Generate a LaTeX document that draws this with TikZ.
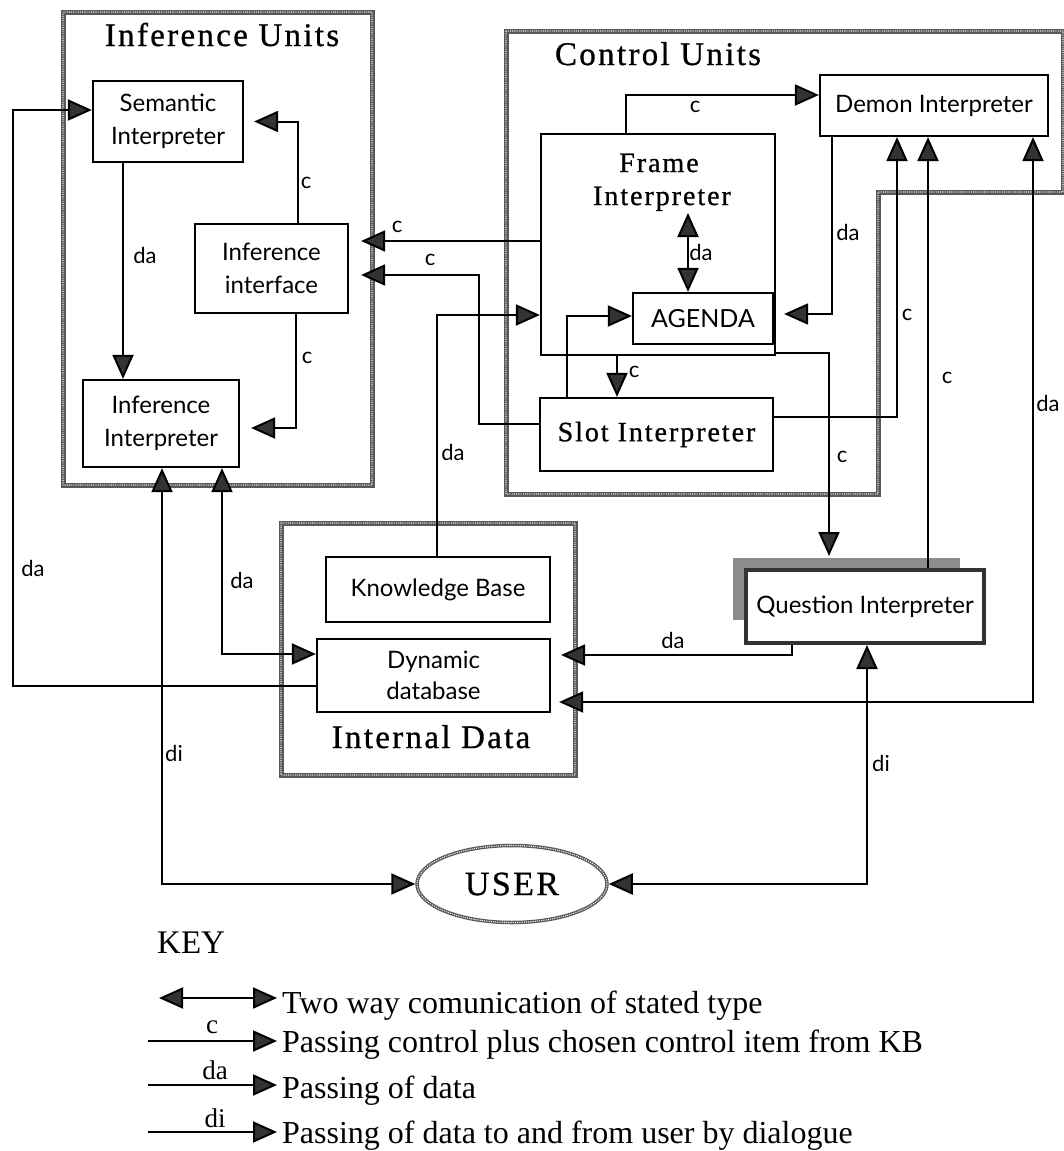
\documentclass[tikz,border=0pt]{standalone}
\usepackage{fontspec}
\setmainfont{Liberation Serif}
\newfontfamily\boxfont{Lato}
\newfontfamily\spacedfont[LetterSpace=7,FakeBold=0.8]{Liberation Serif}
\usetikzlibrary{arrows.meta,calc,shapes.geometric}

\tikzset{
  head/.tip={Triangle[length=24pt,width=21pt,fill=black!80]},
  conn/.style={line width=2pt, draw=black},
  arr/.style={conn, -head},
  darr/.style={conn, head-head},
  unitbox/.style={draw, line width=2.2pt, rectangle, fill=white, inner sep=0pt,
    align=center, font=\boxfont\fontsize{24}{33}\selectfont},
  lbl/.style={font=\boxfont\fontsize{22}{24}\selectfont, inner sep=0pt},
  frameline/.style={draw=black!65, line width=5pt,
    postaction={draw=white, line width=1.4pt, line cap=round, dash pattern=on 0pt off 2.2pt}},
  title/.style={font=\spacedfont\fontsize{33}{36}\selectfont, inner sep=0pt, anchor=base},
  spacedlbl/.style={font=\spacedfont\fontsize{28}{34}\selectfont, inner sep=0pt, anchor=base},
  keytext/.style={font=\fontsize{32}{36}\selectfont, inner sep=0pt, anchor=base west},
  keylbl/.style={font=\fontsize{27}{30}\selectfont, inner sep=0pt},
}

\begin{document}
\begin{tikzpicture}[x=1pt,y=-1pt]
\useasboundingbox (0,0) rectangle (1064,1151);

% ---- unit frames ----
\draw[frameline] (63,12) rectangle (372,485);
\draw[frameline] (506,31) -- (1063,31) -- (1063,192) -- (878,192) -- (878,494) -- (506,494) -- cycle;
\draw[frameline] (281,523) rectangle (575,775);

\node[title] (tinf) at (222,46) {Inference Units};
\node[title] (tctl) at (658,65) {Control Units};
\node[title] (tdat) at (431,748) {Internal Data};

% ---- inference units ----
\node[unitbox, minimum width=150pt, minimum height=81pt] (sem) at (168,121.5) {Semantic\\Interpreter};
\node[unitbox, minimum width=153pt, minimum height=89pt] (iif) at (271.5,268.5) {Inference\\interface};
\node[unitbox, minimum width=156pt, minimum height=87pt] (iint) at (161,423.5) {Inference\\Interpreter};

% ---- control units ----
\node[unitbox, minimum width=234pt, minimum height=221pt] (frame) at (658,244.5) {};
\node[spacedlbl] (frt1) at (659,172) {Frame};
\node[spacedlbl] (frt2) at (662,205) {Interpreter};
\node[unitbox, minimum width=140pt, minimum height=51pt, font=\boxfont\fontsize{25}{30}\selectfont] (agenda) at (703,318.5) {AGENDA};
\node[unitbox, minimum width=233pt, minimum height=73pt, font=\spacedfont\fontsize{28}{34}\selectfont] (slot) at (656.5,434.5) {Slot Interpreter};
\node[unitbox, minimum width=228pt, minimum height=61pt] (demon) at (934,105.5) {Demon Interpreter};

% ---- question interpreter with its shaded back ----
\fill[black!45] (733,558) rectangle (960,620);
\node[unitbox, line width=4pt, draw=black!80, minimum width=238pt, minimum height=73pt] (ques) at (865,606.5) {Question Interpreter};

% ---- internal data ----
\node[unitbox, minimum width=224pt, minimum height=65pt] (kb) at (438,589.5) {Knowledge Base};
\node[unitbox, minimum width=233pt, minimum height=73pt, font=\boxfont\fontsize{24}{31}\selectfont] (dyn) at (433.5,675.5) {Dynamic\\database};

% ---- user ----
\node[ellipse, frameline, line width=3.5pt, fill=white, minimum width=190pt, minimum height=77pt,
  font=\spacedfont\fontsize{34}{36}\selectfont, inner sep=0pt] (user) at (512,884) {USER};

% ---- connectors ----
\draw[arr] (123,0 |- sem.south) -- (123,0 |- iint.north);
\node[lbl] (l1) at (145,255) {da};

\draw[arr] (298,0 |- iif.north) |- ($(sem.east)+(10,0)$);
\node[lbl] (l2) at (306,183) {c};

\draw[arr] (296,0 |- iif.south) |- ($(iint.east)+(11,4.5)$);
\node[lbl] (l3) at (307,358) {c};

\draw[arr] (dyn.west |- 0,686) -| (13,110) -- (sem.west |- 0,110);
\node[lbl] (l4) at (33,568) {da};

\draw[darr] (162,0 |- iint.south) |- (user.west);
\node[lbl] (l5) at (174,753) {di};

\draw[darr] (222,0 |- iint.south) |- (dyn.west |- 0,654);
\node[lbl] (l6) at (242,580) {da};

\draw[arr] (frame.west |- 0,241) -- ($(iif.east |- 0,241)+(12,0)$);
\node[lbl] (l7) at (397,227) {c};

\draw[arr] (slot.west |- 0,424) -| (479,275) -- ($(iif.east |- 0,275)+(12,0)$);
\node[lbl] (l8) at (430,260) {c};

\draw[arr] (437,0 |- kb.north) |- (frame.west |- 0,315);
\node[lbl] (l9) at (453,452) {da};

\draw[arr] (567,0 |- slot.north) |- (agenda.west |- 0,316);

\draw[arr] (617,0 |- frame.south) -- (617,0 |- slot.north);
\node[lbl] (l10) at (634,372) {c};

\coordinate (fda) at (688,213);
\draw[darr] (fda) -- (688,0 |- agenda.north);
\node[lbl] (l11) at (701,252) {da};

\draw[arr] (626,0 |- frame.north) |- (demon.west |- 0,95);
\node[lbl] (l12) at (695,107) {c};

\draw[arr] (832,0 |- demon.south) |- ($(agenda.east |- 0,314)+(10,0)$);
\node[lbl] (l13) at (848,232) {da};

\draw[arr] (slot.east |- 0,417) -| (897,0 |- demon.south);
\node[lbl] (l14) at (907,315) {c};

\draw[arr] (frame.east |- 0,353) -| ($(829,0 |- ques.north)+(0,-12)$);
\node[lbl] (l15) at (842,457) {c};

\draw[arr] (928,0 |- ques.north) -- (928,0 |- demon.south);
\node[lbl] (l16) at (947,378) {c};

\draw[darr] ($(dyn.east |- 0,702)+(8,0)$) -| (1033,0 |- demon.south);
\node[lbl] (l17) at (1048,403) {da};

\draw[arr] (792,0 |- ques.south) |- ($(dyn.east |- 0,655)+(10,0)$);
\node[lbl] (l18) at (673,640) {da};

\draw[darr] (867,0 |- ques.south) |- (user.east);
\node[lbl] (l19) at (881,763) {di};

% ---- key ----
\node[font=\fontsize{33}{36}\selectfont, inner sep=0pt, anchor=base west] (key) at (157,953) {KEY};

\coordinate (k1a) at (159,998); \coordinate (k1b) at (277,998);
\draw[darr] (k1a) -- (k1b);
\node[keytext] (k1t) at (282,1013) {Two way comunication of stated type};

\coordinate (k2a) at (148,1041); \coordinate (k2b) at (277,1041);
\draw[arr] (k2a) -- (k2b);
\node[keylbl] (k2l) at (212,1027) {c};
\node[keytext] (k2t) at (282,1052) {Passing control plus chosen control item from KB};

\coordinate (k3a) at (148,1085); \coordinate (k3b) at (277,1085);
\draw[arr] (k3a) -- (k3b);
\node[keylbl] (k3l) at (215,1070) {da};
\node[keytext] (k3t) at (282,1098) {Passing of data};

\coordinate (k4a) at (148,1132); \coordinate (k4b) at (277,1132);
\draw[arr] (k4a) -- (k4b);
\node[keylbl] (k4l) at (215,1118) {di};
\node[keytext] (k4t) at (282,1143) {Passing of data to and from user by dialogue};
\end{tikzpicture}
\end{document}
